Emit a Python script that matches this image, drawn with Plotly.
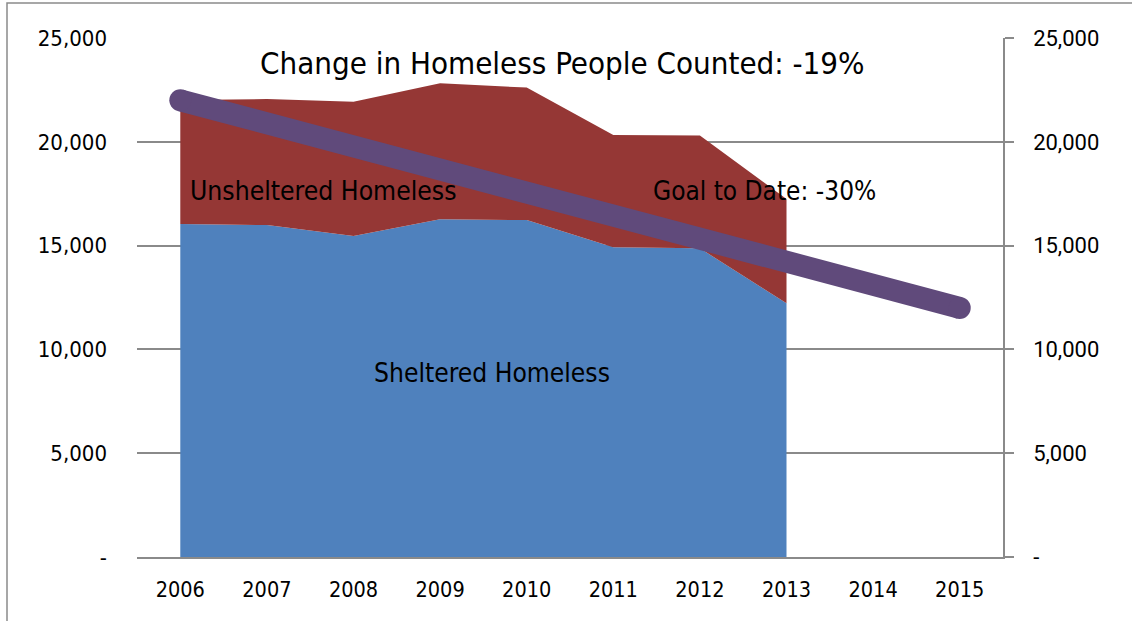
import plotly.graph_objects as go

years_all = ["2006", "2007", "2008", "2009", "2010", "2011", "2012", "2013", "2014", "2015"]
years_counted = ["2006", "2007", "2008", "2009", "2010", "2011", "2012", "2013"]
sheltered = [16040, 15990, 15460, 16270, 16230, 14920, 14870, 12220]
unsheltered = [5970, 6070, 6470, 6550, 6380, 5410, 5430, 5030]
goal_years = ["2006", "2015"]
goal_values = [22000, 12000]

tick_vals = [0, 5000, 10000, 15000, 20000, 25000]
tick_text = ["-", "5,000", "10,000", "15,000", "20,000", "25,000"]

COND = "DejaVu Sans Condensed, Liberation Sans, sans-serif"
GRID = "#8a8a8a"

W, H = 1132, 621
L, R, T, B = 137, 1003, 38, 557
PW, PH = R - L, B - T


def px(x):
    return (x - L) / PW


def py(y):
    return (B - y) / PH


fig = go.Figure()
fig.add_trace(go.Scatter(x=years_counted, y=sheltered, stackgroup="one", mode="none",
                         fillcolor="#4F81BD", name="Sheltered Homeless"))
fig.add_trace(go.Scatter(x=years_counted, y=unsheltered, stackgroup="one", mode="none",
                         fillcolor="#953735", name="Unsheltered Homeless"))
fig.add_trace(go.Scatter(x=goal_years, y=goal_values, mode="lines+markers",
                         line=dict(color="#604A7B", width=22),
                         marker=dict(color="#604A7B", size=22, line=dict(width=0)),
                         name="Goal", yaxis="y2"))

fig.update_layout(
    width=W, height=H,
    margin=dict(l=L, r=W - R, t=T, b=H - B),
    paper_bgcolor="white", plot_bgcolor="white",
    showlegend=False,
    xaxis=dict(type="category", categoryarray=years_all, categoryorder="array",
               range=[-0.5, 9.5], showgrid=False, showline=True, linecolor=GRID,
               linewidth=1.5, ticks="", tickfont=dict(family=COND, size=21.5, color="black"),
               ticklabelstandoff=12, zeroline=False),
    yaxis=dict(range=[0, 25000], tickvals=tick_vals, ticktext=tick_text,
               showgrid=True, gridcolor=GRID, gridwidth=1.5, zeroline=False,
               showline=False, ticks="", ticklabelstandoff=29,
               tickfont=dict(family=COND, size=22, color="black")),
    yaxis2=dict(range=[0, 25000], tickvals=tick_vals, ticktext=tick_text,
                overlaying="y", side="right", showgrid=False, zeroline=False,
                showline=True, linecolor=GRID, linewidth=1.5,
                ticks="outside", ticklen=9, tickcolor=GRID, tickwidth=1.5,
                ticklabelstandoff=15,
                tickfont=dict(family="Roboto, sans-serif", size=22, color="black")),
)

fig.add_annotation(x=px(562), y=py(63), xref="paper", yref="paper", showarrow=False,
                   xanchor="center", yanchor="middle",
                   text="Change in Homeless People Counted: -19%",
                   font=dict(family=COND, size=31, color="black"))
fig.add_annotation(x=px(323), y=py(191), xref="paper", yref="paper", showarrow=False,
                   xanchor="center", yanchor="middle",
                   text="Unsheltered Homeless", font=dict(family=COND, size=26.3, color="black"))
fig.add_annotation(x=px(764), y=py(191), xref="paper", yref="paper", showarrow=False,
                   xanchor="center", yanchor="middle",
                   text="Goal to Date: -30%", font=dict(family=COND, size=26, color="black"))
fig.add_annotation(x=px(492), y=py(373), xref="paper", yref="paper", showarrow=False,
                   xanchor="center", yanchor="middle",
                   text="Sheltered Homeless", font=dict(family=COND, size=26.2, color="black"))

fig.add_shape(type="rect", xref="paper", yref="paper",
              x0=px(7), x1=px(1140), y0=py(630), y1=py(3),
              line=dict(color=GRID, width=1.5), fillcolor="rgba(0,0,0,0)", layer="above")

fig.write_html("out.html")
